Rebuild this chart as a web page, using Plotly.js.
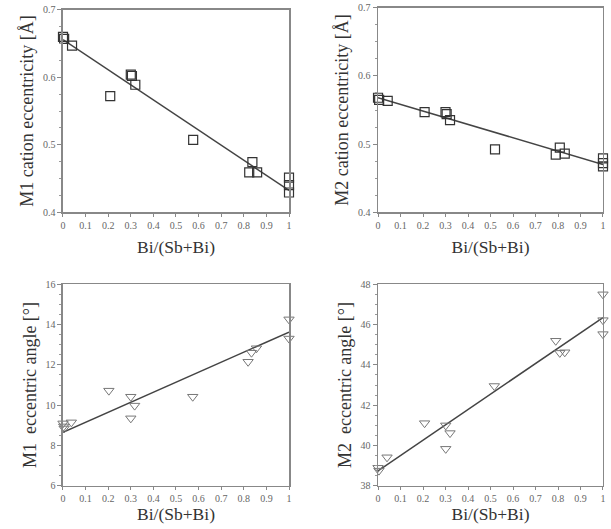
<!DOCTYPE html>
<html><head><meta charset="utf-8">
<script src="https://cdn.plot.ly/plotly-3.0.1.min.js"></script>
<style>html,body{margin:0;padding:0;background:#fff}</style>
</head><body><div id="chart" style="width:611px;height:529px"></div>
<script>
// Panel 1: M1 cation eccentricity
const x1 = [0, 0.005, 0.04, 0.209, 0.3, 0.305, 0.32, 0.576, 0.824, 0.838, 0.859, 1, 1, 1];
const y1 = [0.660, 0.657, 0.647, 0.572, 0.604, 0.602, 0.589, 0.507, 0.459, 0.474, 0.459, 0.451, 0.440, 0.429];
const fitX1 = [0, 1];
const fitY1 = [0.656, 0.432];
// Panel 2: M2 cation eccentricity
const x2 = [0, 0.005, 0.043, 0.207, 0.3, 0.305, 0.32, 0.52, 0.79, 0.808, 0.83, 1, 1, 1];
const y2 = [0.568, 0.565, 0.5635, 0.547, 0.547, 0.544, 0.535, 0.492, 0.4845, 0.4948, 0.486, 0.479, 0.472, 0.467];
const fitX2 = [0, 1];
const fitY2 = [0.568, 0.470];
// Panel 3: M1 eccentric angle
const x3 = [0, 0.003, 0.005, 0.037, 0.203, 0.3, 0.3, 0.317, 0.574, 0.819, 0.834, 0.856, 1, 1];
const y3 = [9.1, 8.95, 8.85, 9.15, 10.72, 10.42, 9.35, 9.98, 10.42, 12.15, 12.6, 12.82, 14.25, 13.3];
const fitX3 = [0, 1];
const fitY3 = [8.66, 13.62];
// Panel 4: M2 eccentric angle
const x4 = [0, 0.004, 0.04, 0.207, 0.301, 0.301, 0.32, 0.517, 0.79, 0.808, 0.83, 1, 1, 1];
const y4 = [38.9, 38.76, 39.42, 41.11, 41.0, 39.84, 40.62, 42.95, 45.19, 44.59, 44.62, 47.49, 46.21, 45.52];
const fitX4 = [0, 1];
const fitY4 = [38.75, 46.34];

const xTickVals = [0,0.1,0.2,0.3,0.4,0.5,0.6,0.7,0.8,0.9,1];
const xTickText = ['0','0.1','0.2','0.3','0.4','0.5','0.6','0.7','0.8','0.9','1'];
const xTitle = 'Bi/(Sb+Bi)';
const yTitles = ['M1 cation eccentricity [Å]', 'M2 cation eccentricity [Å]', 'M1  eccentric angle [°]', 'M2  eccentric angle [°]'];

const SERIF = '"Liberation Serif", "DejaVu Serif", serif';
const sq = {symbol: 'square-open', size: 9, color: '#333', line: {width: 1.2, color: '#333'}};
const tri = {symbol: 'triangle-down-open', size: 9, color: '#777', line: {width: 1, color: '#777'}};
const lineStyle = {color: '#444', width: 1.5};

function pts(x, y, m, ax) {
  return {x, y, type: 'scatter', mode: 'markers', marker: m, xaxis: 'x' + ax, yaxis: 'y' + ax, cliponaxis: false, showlegend: false, hoverinfo: 'skip'};
}
function fit(x, y, ax) {
  return {x, y, type: 'scatter', mode: 'lines', line: lineStyle, xaxis: 'x' + ax, yaxis: 'y' + ax, cliponaxis: false, showlegend: false, hoverinfo: 'skip'};
}

const data = [
  fit(fitX1, fitY1, ''), pts(x1, y1, sq, ''),
  fit(fitX2, fitY2, '2'), pts(x2, y2, sq, '2'),
  fit(fitX3, fitY3, '3'), pts(x3, y3, tri, '3'),
  fit(fitX4, fitY4, '4'), pts(x4, y4, tri, '4'),
];

function xax(dom, anchor, standoff) {
  return {
    domain: dom, anchor: anchor, range: [0, 1], tickvals: xTickVals, ticktext: xTickText,
    ticks: 'outside', ticklen: 3, tickcolor: '#888', showline: true, mirror: true, linecolor: '#888', linewidth: 1.5,
    showgrid: false, zeroline: false, tickfont: {family: SERIF, size: 10, color: '#666'},
    title: {text: xTitle, font: {family: SERIF, size: 17.5, color: '#333'}, standoff: standoff},
    automargin: false, fixedrange: true
  };
}
function yax(dom, anchor, range, dtick, title, fmt) {
  return {
    domain: dom, anchor: anchor, range: range, dtick: dtick, tick0: range[0], tickformat: fmt,
    ticks: 'outside', ticklen: 4, tickcolor: '#888', showline: true, mirror: true, linecolor: '#888', linewidth: 1.5,
    minor: {ticks: 'outside', ticklen: 2, tickcolor: '#999', dtick: dtick / 4},
    showgrid: false, zeroline: false, tickfont: {family: SERIF, size: 10, color: '#666'},
    title: {text: title, font: {family: SERIF, size: 18, color: '#333'}, standoff: 4},
    automargin: false, fixedrange: true
  };
}

const dLx = [0.1031, 0.4730], dRx = [0.6187, 0.9869];
const dTy = [0.5992, 0.9811], dTyR = [0.5992, 0.9849], dBy = [0.0813, 0.4631];

const layout = {
  width: 611, height: 529, margin: {l: 0, r: 0, t: 0, b: 0},
  paper_bgcolor: '#fff', plot_bgcolor: '#fff', showlegend: false,
  xaxis: xax(dLx, 'y', 11), yaxis: yax(dTy, 'x', [0.4, 0.7], 0.1, yTitles[0], '.1f'),
  xaxis2: xax(dRx, 'y2', 11), yaxis2: yax(dTyR, 'x2', [0.4, 0.7], 0.1, yTitles[1], '.1f'),
  xaxis3: xax(dLx, 'y3', 4), yaxis3: yax(dBy, 'x3', [6, 16], 2, yTitles[2], 'd'),
  xaxis4: xax(dRx, 'y4', 4), yaxis4: yax(dBy, 'x4', [38, 48], 2, yTitles[3], 'd'),
};

Plotly.newPlot('chart', data, layout, {staticPlot: true, displayModeBar: false});
</script></body></html>
